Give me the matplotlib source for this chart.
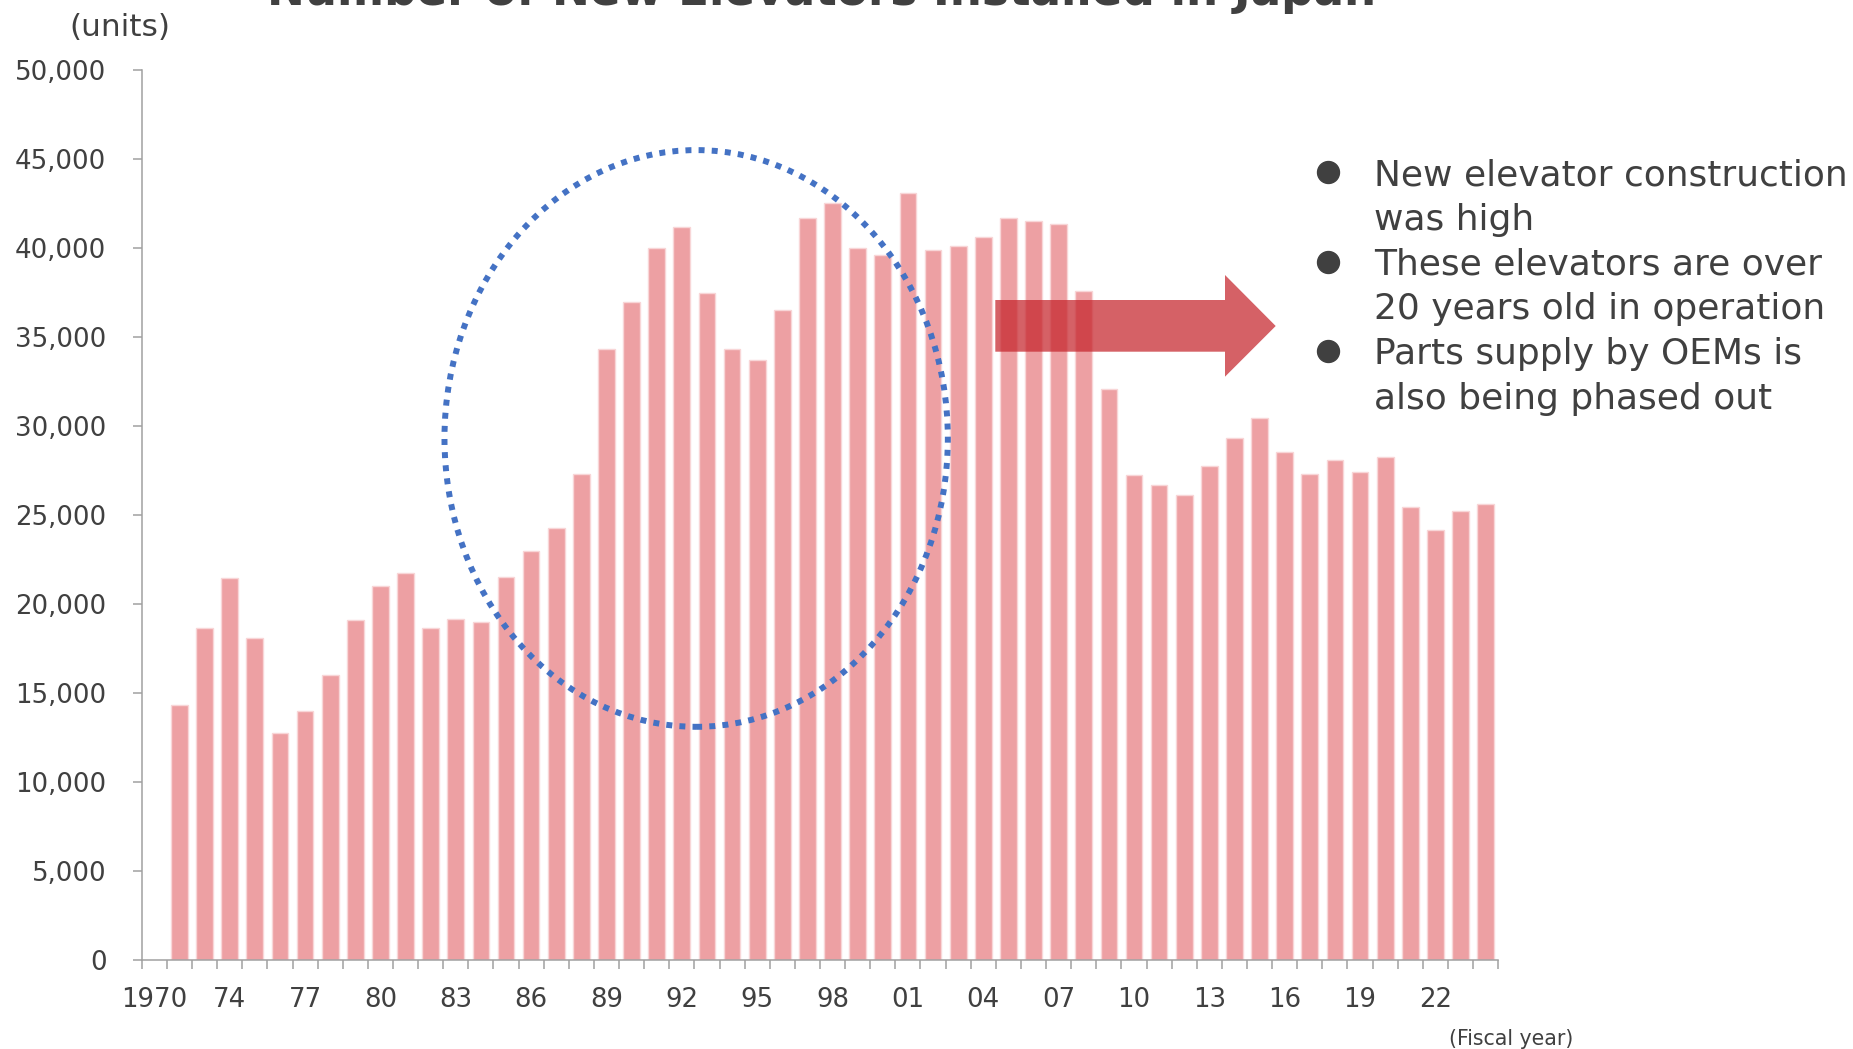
import numpy as np
import matplotlib.pyplot as plt
import matplotlib.patches as mpatches
import matplotlib.transforms as mtransforms

# Neu installierte Aufzüge in Japan (Stück), je Geschäftsjahr
installed = [14300, 18650, 21450, 18080, 12750, 14000, 16000, 19100, 21000, 21750,
             18650, 19150, 19000, 21500, 23000, 24250, 27300, 34300, 36950, 40000,
             41200, 37500, 34300, 33700, 36500, 41700, 42550, 40000, 39600, 43100,
             39900, 40100, 40600, 41700, 41500, 41350, 37600, 32100, 27250, 26700,
             26150, 27750, 29350, 30450, 28550, 27300, 28100, 27400, 28250, 25450,
             24150, 25200, 25600]
tick_labels = ["1970", "74", "77", "80", "83", "86", "89", "92", "95", "98",
               "01", "04", "07", "10", "13", "16", "19", "22"]
y_ticks = list(range(0, 50001, 5000))
notes = [["New elevator construction", "was high"],
         ["These elevators are over", "20 years old in operation"],
         ["Parts supply by OEMs is", "also being phased out"]]

W, H = 1853, 1049
text_col = "#404040"
axis_col = "#a0a0a0"

fig = plt.figure(figsize=(W / 100, H / 100), dpi=100)
# Pixel-Koordinaten (von oben links) -> Figur
px = mtransforms.Affine2D().scale(1 / W, -1 / H).translate(0, 1) + fig.transFigure

ax = fig.add_axes([141.8 / W, 1 - 960 / H, 1356.4 / W, 890 / H])
n_slots = len(installed) + 1
x = np.arange(1, n_slots)
ax.bar(x, installed, width=0.665, color="#eda0a3", edgecolor="#f8d6d7", linewidth=1, zorder=2)

ax.set_xlim(-0.5, n_slots - 0.5)
ax.set_ylim(0, 50000)
ax.set_yticks(y_ticks)
ax.set_yticklabels([f"{v:,}" for v in y_ticks])
ax.set_xticks(np.arange(0, n_slots, 3))
ax.set_xticklabels(tick_labels)
ax.set_xticks(np.arange(-0.5, n_slots, 1), minor=True)

for side in ["top", "right"]:
    ax.spines[side].set_visible(False)
for side in ["left", "bottom"]:
    ax.spines[side].set_color(axis_col)
    ax.spines[side].set_linewidth(1.1)
ax.tick_params(axis="y", length=6.5, width=1.1, color=axis_col, pad=19,
               labelsize=18.7, labelcolor=text_col)
ax.tick_params(axis="x", which="major", length=0, pad=19.5, labelsize=18.7, labelcolor=text_col)
ax.tick_params(axis="x", which="minor", length=6.5, width=1.1, color=axis_col)

# gepunktete Ellipse um den Boom
ell = mpatches.Ellipse((21.57, 29300), 20.04, 32400, fill=False, edgecolor="#4472c4",
                       linewidth=4.3, linestyle=(0, (1, 1.2)), zorder=4)
ell.set_capstyle("butt")
ax.add_patch(ell)

# roter Pfeil
arrow_pts = [(995.3, 300), (1225, 300), (1225, 275), (1275.7, 326),
             (1225, 376.7), (1225, 351.7), (995.3, 351.7)]
arrow = mpatches.Polygon(arrow_pts, closed=True, facecolor="#c5242b", edgecolor="none",
                         alpha=0.72, transform=px, zorder=5)
fig.add_artist(arrow)

fig.text(822 / W, 1 - 5 / H, "Number of New Elevators Installed in Japan", ha="center",
         va="baseline", fontsize=32.6, fontweight="bold", color=text_col)
fig.text(120 / W, 1 - 27 / H, "(units)", ha="center", va="center", fontsize=22.5, color=text_col)
fig.text(1511 / W, 1 - 1039 / H, "(Fiscal year)", ha="center", va="center", fontsize=14.8,
         color=text_col)

# Stichpunkte rechts
base = 185
for lines in notes:
    dot = plt.Line2D([1327.5 / W], [1 - (base - 12.7) / H], marker="o", markersize=15.8,
                     color=text_col, linestyle="none", transform=fig.transFigure)
    fig.add_artist(dot)
    for line in lines:
        fig.text(1374 / W, 1 - base / H, line, ha="left", va="baseline", fontsize=25.9,
                 color=text_col)
        base += 44.7

fig.savefig("out.png", dpi=100)
